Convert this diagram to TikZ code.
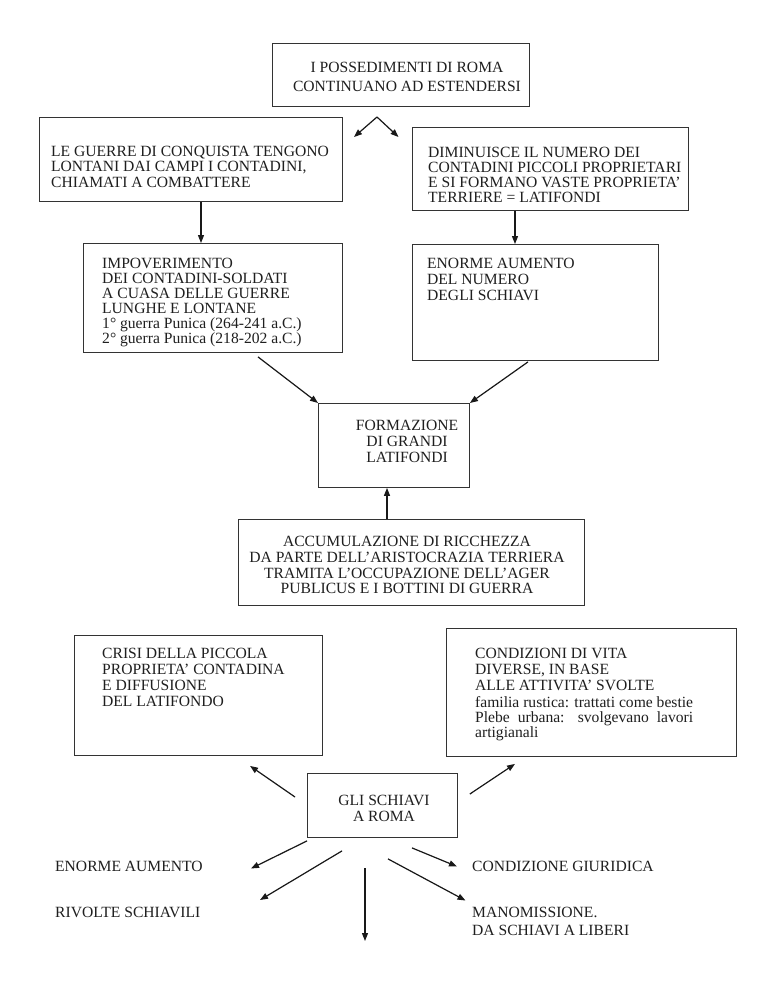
\documentclass[tikz,border=0pt]{standalone}
\usepackage{fontspec}
\setmainfont{Liberation Serif}
\usetikzlibrary{arrows.meta,calc}
\newcommand\fsz[1]{\fontsize{15.6}{#1}\selectfont}
\begin{document}
\begin{tikzpicture}[x=1pt,y=-1pt,
  bx/.style={draw=black!80, line width=0.9pt, inner sep=0pt, anchor=north west},
  txl/.style={inner sep=0pt, anchor=north west, align=left, text=black!88},
  txc/.style={inner sep=0pt, anchor=north, align=center, text=black!88},
  arr/.style={-{Triangle[length=8pt,width=6pt]}, line width=1.2pt, draw=black!90, fill=black!90}]
\useasboundingbox[fill=white] (0,0) rectangle (768,994);

% boxes
\node[bx, minimum width=257pt, minimum height=63pt]  (b1)  at (272,43)  {};
\node[bx, minimum width=303pt, minimum height=84pt]  (b2)  at (39,117)  {};
\node[bx, minimum width=276pt, minimum height=83pt]  (b3)  at (412,127) {};
\node[bx, minimum width=259pt, minimum height=109pt] (b4)  at (83,243)  {};
\node[bx, minimum width=246pt, minimum height=116pt] (b5)  at (412,244) {};
\node[bx, minimum width=151pt, minimum height=84pt]  (b6)  at (318,403) {};
\node[bx, minimum width=346pt, minimum height=86pt]  (b7)  at (238,519) {};
\node[bx, minimum width=248pt, minimum height=120pt] (b8)  at (74,635)  {};
\node[bx, minimum width=290pt, minimum height=128pt] (b9)  at (446,628) {};
\node[bx, minimum width=150pt, minimum height=64pt]  (b10) at (307,773) {};

% texts
\node[txc, font=\fsz{18.7}] (t1) at (407,62.3) {I POSSEDIMENTI DI ROMA\\CONTINUANO AD ESTENDERSI};
\node[txl, font=\fsz{15.5}] (t2) at (51,145.5) {LE GUERRE DI CONQUISTA TENGONO\\LONTANI DAI CAMPI I CONTADINI,\\CHIAMATI A COMBATTERE};
\node[txl, font=\fsz{14.8}] (t3) at (428,147.3) {DIMINUISCE IL NUMERO DEI\\CONTADINI PICCOLI PROPRIETARI\\E SI FORMANO VASTE PROPRIETA’\\TERRIERE = LATIFONDI};
\node[txl, font=\fsz{15}] (t4) at (102,257.7) {IMPOVERIMENTO\\DEI CONTADINI-SOLDATI\\A CUASA DELLE GUERRE\\LUNGHE E LONTANE\\1° guerra Punica (264-241 a.C.)\\2° guerra Punica (218-202 a.C.)};
\node[txl, font=\fsz{16.3}] (t5) at (427,257.7) {ENORME AUMENTO\\DEL NUMERO\\DEGLI SCHIAVI};
\node[txc, font=\fsz{15.8}] (t6) at (407,420) {FORMAZIONE\\DI GRANDI\\LATIFONDI};
\node[txc, font=\fsz{15.9}] (t7) at (407,535.7) {ACCUMULAZIONE DI RICCHEZZA\\DA PARTE DELL’ARISTOCRAZIA TERRIERA\\TRAMITA L’OCCUPAZIONE DELL’AGER\\PUBLICUS E I BOTTINI DI GUERRA};
\node[txl, font=\fsz{15.9}] (t8) at (102,648.3) {CRISI DELLA PICCOLA\\PROPRIETA’ CONTADINA\\E DIFFUSIONE\\DEL LATIFONDO};
\node[txl, font=\fsz{15.8}] (t9) at (475,648.3) {CONDIZIONI DI VITA\\DIVERSE, IN BASE\\ALLE ATTIVITA’ SVOLTE\\[1.5pt]familia rustica: trattati come bestie\\[-1pt]\makebox[218pt][s]{Plebe urbana: svolgevano lavori}\\[-0.5pt]artigianali};
\node[txc, font=\fsz{15.7}] (t10) at (384,795) {GLI SCHIAVI\\A ROMA};
\node[txl, font=\fsz{16}] (t11) at (55,860.5) {ENORME AUMENTO};
\node[txl, font=\fsz{16}] (t12) at (55,906.7) {RIVOLTE SCHIAVILI};
\node[txl, font=\fsz{16}] (t13) at (472,860.5) {CONDIZIONE GIURIDICA};
\node[txl, font=\fsz{18.3}] (t14) at (472,906.7) {MANOMISSIONE.\\DA SCHIAVI A LIBERI};

% free arrow ends
\coordinate (apex) at (377,117);
\coordinate (tl1) at (354,137);
\coordinate (tr1) at (398.5,137);
\coordinate (x201) at (201,0);
\coordinate (x515) at (515,0);
\coordinate (x387) at (387,0);
\coordinate (tEn) at (251,868.5);
\coordinate (tRi) at (260,900);
\coordinate (sDown) at (365,868);
\coordinate (tDown) at (365,941);
\coordinate (tCo) at (457,866.5);
\coordinate (tMa) at (465.5,900.5);

% connectors
\draw[arr] (apex) -- (tl1);
\draw[arr] (apex) -- (tr1);
\draw[arr] (x201 |- b2.south) -- (x201 |- b4.north);
\draw[arr] (x515 |- b3.south) -- (x515 |- b5.north);
\draw[arr] ($(b4.south west)+(175,4)$) -- (b6.north west);
\draw[arr] ($(b5.south west)+(116,1)$) -- (b6.north east);
\draw[arr] (x387 |- b7.north) -- (x387 |- b6.south);
\draw[arr] ($(b10.north west)+(-12,24)$) -- ($(b8.south west)+(176,10)$);
\draw[arr] ($(b10.north east)+(12,21)$) -- ($(b9.south west)+(69,7)$);
\draw[arr] ($(b10.south west)+(0,3)$) -- (tEn);
\draw[arr] ($(b10.south west)+(35,13)$) -- (tRi);
\draw[arr] (sDown) -- (tDown);
\draw[arr] ($(b10.south west)+(105,10)$) -- (tCo);
\draw[arr] ($(b10.south west)+(81,21)$) -- (tMa);
\end{tikzpicture}
\end{document}
